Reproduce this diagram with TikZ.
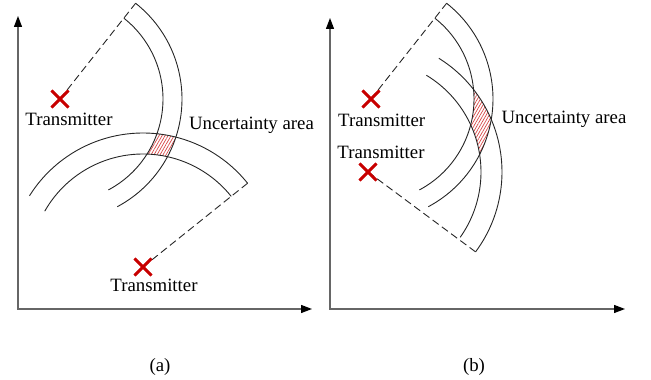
\documentclass[tikz,border=0pt]{standalone}
\usepackage{fontspec}
\setmainfont{Liberation Serif}
\usetikzlibrary{arrows.meta,shapes.misc,calc,patterns.meta}
\definecolor{xred}{RGB}{200,0,0}
\definecolor{hred}{RGB}{215,70,70}
\begin{document}
\begin{tikzpicture}[x=1pt,y=1pt,
  arcline/.style={line width=0.9pt, black!85},
  dline/.style={line width=0.9pt, black!85, dash pattern=on 7.5pt off 4pt},
  axisline/.style={line width=1.3pt, black!60, {Triangle[length=11pt,width=8pt,color=black]}-{Triangle[length=11pt,width=8pt,color=black]}},
  txmark/.style={cross out, draw=xred, line width=2.8pt, minimum size=14pt, inner sep=0pt},
  lbl/.style={font=\fontsize{18.8}{22}\selectfont, inner sep=0pt, anchor=base},
  captext/.style={font=\fontsize{18.8}{22}\selectfont, inner sep=0pt},
  hatch/.style={pattern={Lines[angle=60,distance=2.6pt,line width=0.7pt]}, pattern color=hred}
]
\useasboundingbox (0,0) rectangle (651,380);

% ---------- panel (a) ----------
\node[txmark] (t1a) at (60,281) {};
\node[txmark] (t2a) at (143,113) {};
\coordinate (e1a) at ($(t1a.center)+(51.7:122)$);
\coordinate (e2a) at ($(t2a.center)+(38.7:134)$);
\coordinate (i1a) at ($(t1a.center)+(51.7:103)$);
\coordinate (i2a) at ($(t2a.center)+(38.7:113)$);

\begin{scope}
  \clip (140,215) rectangle (185,255);
  \clip (t1a.center) circle (122);
  \clip (t2a.center) circle (134);
  \fill[hatch] (140,215) rectangle (185,255);
  \fill[white] (t1a.center) circle (103);
  \fill[white] (t2a.center) circle (113);
\end{scope}

\draw[arcline] (e1a) arc[start angle=51.7,end angle=-62,radius=122];
\draw[arcline] (i1a) arc[start angle=51.7,end angle=-62,radius=103];
\draw[arcline] (e2a) arc[start angle=38.7,end angle=147.9,radius=134];
\draw[arcline] (i2a) arc[start angle=38.7,end angle=150.4,radius=113];
\draw[dline] (t1a.center) -- (e1a);
\draw[dline] (t2a.center) -- (e2a);
\node[txmark] at (t1a.center) {};
\node[txmark] at (t2a.center) {};

\node[lbl] (l1a) at (69,254) {Transmitter};
\node[lbl] (l2a) at (154,88.3) {Transmitter};
\node[lbl] (ua) at (251.5,250.7) {Uncertainty area};

\coordinate (oa) at (18,71);
\coordinate (yta) at (18,364);
\coordinate (xta) at (312,71);
\draw[axisline] (yta) -- (oa) -- (xta);
\node[captext] (ca) at (160,13.5) {(a)};

% ---------- panel (b) ----------
\node[txmark] (t1b) at (371,281) {};
\node[txmark] (t2b) at (368,208) {};
\coordinate (e1b) at ($(t1b.center)+(51.7:122)$);
\coordinate (i1b) at ($(t1b.center)+(51.7:103)$);
\coordinate (e2b) at ($(t2b.center)+(-36.6:134)$);
\coordinate (i2b) at ($(t2b.center)+(-35.3:113)$);

\begin{scope}
  \clip (462,218) rectangle (505,298);
  \clip (t1b.center) circle (122);
  \clip (t2b.center) circle (134);
  \fill[hatch] (462,218) rectangle (505,298);
  \fill[white] (t1b.center) circle (103);
  \fill[white] (t2b.center) circle (113);
\end{scope}

\draw[arcline] (e1b) arc[start angle=51.7,end angle=-62,radius=122];
\draw[arcline] (i1b) arc[start angle=51.7,end angle=-62,radius=103];
\draw[arcline] (e2b) arc[start angle=-36.6,end angle=58.1,radius=134];
\draw[arcline] (i2b) arc[start angle=-35.3,end angle=58.9,radius=113];
\draw[dline] (t1b.center) -- (e1b);
\draw[dline] (t2b.center) -- (e2b);
\node[txmark] at (t1b.center) {};
\node[txmark] at (t2b.center) {};

\node[lbl] (l1b) at (381.7,253.3) {Transmitter};
\node[lbl] (l2b) at (381,221.7) {Transmitter};
\node[lbl] (ub) at (564,256.7) {Uncertainty area};

\coordinate (ob) at (330,71);
\coordinate (ytb) at (330,362);
\coordinate (xtb) at (625,71);
\draw[axisline] (ytb) -- (ob) -- (xtb);
\node[captext] (cb) at (474,13.5) {(b)};
\end{tikzpicture}
\end{document}
